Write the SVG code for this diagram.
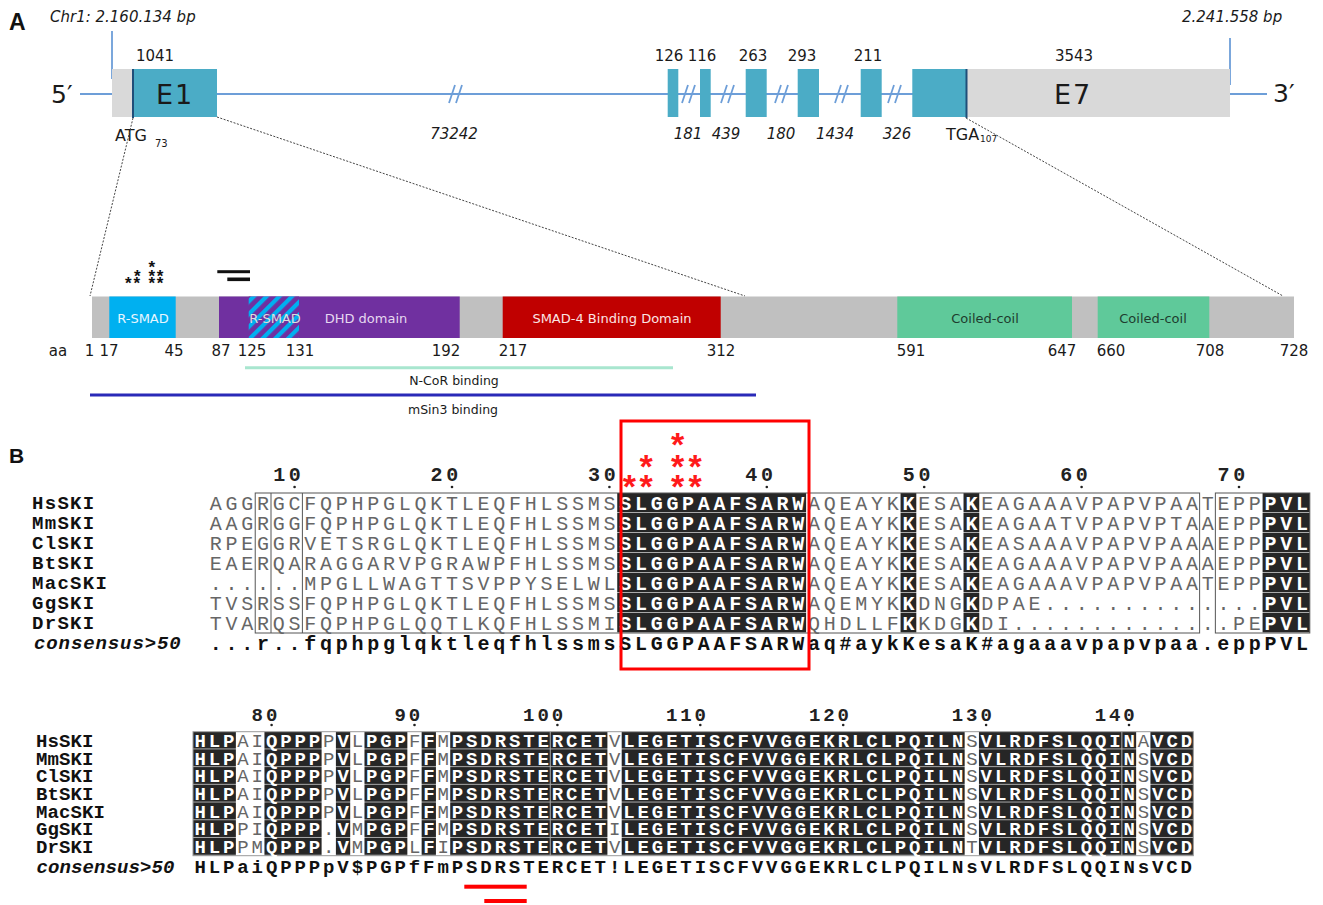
<svg xmlns="http://www.w3.org/2000/svg" width="1323" height="905" viewBox="0 0 1323 905">
<style>
.lbl{font-family:"Liberation Sans",Arial,sans-serif;font-weight:bold;fill:#111}
.dv{font-family:"DejaVu Sans",Verdana,sans-serif;fill:#1a1a1a}
.it{font-style:italic}
.bl{stroke:#6d9ed8;stroke-width:1.8;fill:none}
.exon{fill:#4bacc6}
.utr{fill:#d9d9d9}
.mk{stroke:#1f4e79;stroke-width:2}
.dot{stroke:#444;stroke-width:1;stroke-dasharray:2 1.5;fill:none}
.dl{font-family:"DejaVu Sans",Verdana,sans-serif;font-size:13px;text-anchor:middle}
.pn{font-family:"DejaVu Sans",Verdana,sans-serif;font-size:15px;fill:#1a1a1a;text-anchor:middle}
.s1{font-family:"Liberation Mono","Courier New",monospace;font-size:20px;letter-spacing:3.74px}
.s2{font-family:"Liberation Mono","Courier New",monospace;font-size:19px;letter-spacing:2.89px}
.nm1{font-family:"Liberation Mono","Courier New",monospace;font-size:19px;font-weight:bold;letter-spacing:1.3px;fill:#111}
.nm2{font-family:"Liberation Mono","Courier New",monospace;font-size:19px;font-weight:bold;letter-spacing:0.1px;fill:#111}
.g{fill:#666;font-weight:normal}
.w{fill:#fff;font-weight:bold}
.cs{font-weight:bold;fill:#111}
.num{font-weight:bold;fill:#222}
.frame{fill:none;stroke:#555;stroke-width:1}
.rstar{font-family:"Liberation Sans",Arial,sans-serif;font-weight:bold;font-size:34px;fill:#ff1a1a;text-anchor:middle}
.kstar{font-family:"Liberation Sans",Arial,sans-serif;font-weight:bold;font-size:17px;fill:#111;text-anchor:middle}
</style>
<defs>
<pattern id="hatch" patternUnits="userSpaceOnUse" width="9" height="9" patternTransform="rotate(45)">
<rect width="9" height="9" fill="#7030a0"/><rect width="4.2" height="9" fill="#00b0f0"/>
</pattern>
<pattern id="rows1" patternUnits="userSpaceOnUse" x="0" y="493" width="10" height="20">
<rect width="10" height="20" fill="#262626"/><rect y="19" width="10" height="1" fill="#aaa"/>
</pattern>
<pattern id="rows2" patternUnits="userSpaceOnUse" x="0" y="731.7" width="10" height="17.71">
<rect width="10" height="17.71" fill="#262626"/><rect y="16.71" width="10" height="1" fill="#aaa"/>
</pattern>
</defs>
<rect width="1323" height="905" fill="#fff"/>

<text class="lbl" x="9" y="30" font-size="23">A</text>
<g id="gene">
<text class="dv it" x="50" y="22" font-size="15" fill="#333">Chr1: 2.160.134 bp</text>
<text class="dv it" x="1182" y="22" font-size="15" fill="#333">2.241.558 bp</text>
<line class="bl" x1="112" y1="31" x2="112" y2="79"/>
<line class="bl" x1="1230" y1="38" x2="1230" y2="85"/>
<line class="bl" x1="80" y1="94" x2="1267" y2="94"/>
<text class="dv" x="51" y="103" font-size="25">5′</text>
<text class="dv" x="1273" y="102" font-size="25">3′</text>
<g id="breaks" class="bl">
<path d="M449,103 L455,85 M456,103 L462,85"/>
<path d="M682,103 L688,85 M689,103 L695,85"/>
<path d="M721,103 L727,85 M728,103 L734,85"/>
<path d="M775,103 L781,85 M782,103 L788,85"/>
<path d="M835,103 L841,85 M842,103 L848,85"/>
<path d="M888,103 L894,85 M895,103 L901,85"/>
</g>
</g>
<g id="exon1">
<rect class="utr" x="112" y="69" width="21" height="48"/>
<rect class="exon" x="133" y="69" width="84" height="48"/>
<line class="mk" x1="133" y1="69" x2="133" y2="118"/>
<text class="dv" x="175" y="104" font-size="27" text-anchor="middle" letter-spacing="2">E1</text>
<text class="dv" x="155" y="60.5" font-size="15" text-anchor="middle">1041</text>
<text class="dv" x="115" y="141" font-size="16">ATG</text>
<text class="dv" x="155" y="147" font-size="10">73</text>
</g>
<g id="exon2"><rect class="exon" x="667.7" y="69" width="10.6" height="48"/><text class="dv" x="669" y="60.5" font-size="15" text-anchor="middle">126</text></g>
<g id="exon3"><rect class="exon" x="700" y="69" width="10.7" height="48"/><text class="dv" x="702" y="60.5" font-size="15" text-anchor="middle">116</text></g>
<g id="exon4"><rect class="exon" x="745.7" y="69" width="21" height="48"/><text class="dv" x="753" y="60.5" font-size="15" text-anchor="middle">263</text></g>
<g id="exon5"><rect class="exon" x="797.7" y="69" width="21.3" height="48"/><text class="dv" x="802" y="60.5" font-size="15" text-anchor="middle">293</text></g>
<g id="exon6"><rect class="exon" x="860.7" y="69" width="21" height="48"/><text class="dv" x="868" y="60.5" font-size="15" text-anchor="middle">211</text></g>
<g id="exon7">
<rect class="exon" x="912.3" y="69" width="54.4" height="48"/>
<rect class="utr" x="966.7" y="69" width="263.3" height="48"/>
<line class="mk" x1="966.5" y1="69" x2="966.5" y2="118"/>
<text class="dv" x="1073" y="104" font-size="27" text-anchor="middle" letter-spacing="2">E7</text>
<text class="dv" x="1074" y="60.5" font-size="15" text-anchor="middle">3543</text>
<text class="dv" x="946" y="140" font-size="16">TGA</text>
<text class="dv" x="980" y="142" font-size="9">107</text>
</g>
<g id="introns" class="dv it" font-size="15" text-anchor="middle">
<text x="454" y="138.5">73242</text>
<text x="688" y="138.5">181</text>
<text x="726" y="138.5">439</text>
<text x="781" y="138.5">180</text>
<text x="835" y="138.5">1434</text>
<text x="897" y="138.5">326</text>
</g>

<g id="connectors">
<line class="dot" x1="133" y1="118" x2="90" y2="296"/>
<line class="dot" x1="217" y1="117" x2="745" y2="296"/>
<line class="dot" x1="966" y1="118" x2="1283" y2="296"/>
</g>

<g id="protein">
<rect x="92" y="296.5" width="1202" height="41.5" fill="#c0c0c0"/>
</g>
<g id="rsmad1">
<rect x="109.3" y="296.5" width="66.4" height="41.5" fill="#00b0f0"/>
<text class="dl" x="143" y="322.8" fill="#e8f6ff">R-SMAD</text>
</g>
<g id="dhd">
<rect x="219" y="296.5" width="240.7" height="41.5" fill="#7030a0"/>
<rect x="248.7" y="296.5" width="50.3" height="41.5" fill="url(#hatch)"/>
<text class="dl" x="275" y="322.8" fill="#dddddd">R-SMAD</text>
<text class="dl" x="366" y="322.8" fill="#e6d8f0">DHD domain</text>
</g>
<g id="smad4">
<rect x="502.7" y="296.5" width="218" height="41.5" fill="#c00000"/>
<text class="dl" x="612" y="322.8" fill="#fbe4e4">SMAD-4 Binding Domain</text>
</g>
<g id="cc1">
<rect x="897.3" y="296.5" width="174.7" height="41.5" fill="#5fc99a"/>
<text class="dl" x="985" y="322.8" fill="#1e3d2f" font-size="12.5">Coiled-coil</text>
</g>
<g id="cc2">
<rect x="1097.7" y="296.5" width="111.6" height="41.5" fill="#5fc99a"/>
<text class="dl" x="1153" y="322.8" fill="#1e3d2f" font-size="12.5">Coiled-coil</text>
</g>
<g id="aa-numbers">
<text class="pn" x="58" y="355.5">aa</text>
<text class="pn" x="89.5" y="355.5">1</text>
<text class="pn" x="109" y="355.5">17</text>
<text class="pn" x="174" y="355.5">45</text>
<text class="pn" x="221" y="355.5">87</text>
<text class="pn" x="252" y="355.5">125</text>
<text class="pn" x="300" y="355.5">131</text>
<text class="pn" x="446" y="355.5">192</text>
<text class="pn" x="513" y="355.5">217</text>
<text class="pn" x="721" y="355.5">312</text>
<text class="pn" x="911" y="355.5">591</text>
<text class="pn" x="1062" y="355.5">647</text>
<text class="pn" x="1111" y="355.5">660</text>
<text class="pn" x="1210" y="355.5">708</text>
<text class="pn" x="1294" y="355.5">728</text>
</g>
<g id="ncor">
<line x1="245" y1="367.7" x2="673" y2="367.7" stroke="#a8e6cf" stroke-width="3"/>
<text class="dv" x="454" y="385" font-size="12.5" text-anchor="middle">N-CoR binding</text>
</g>
<g id="msin3">
<line x1="90" y1="395" x2="756" y2="395" stroke="#2a2ab8" stroke-width="3"/>
<text class="dv" x="453" y="413.5" font-size="12.5" text-anchor="middle">mSin3 binding</text>
</g>
<g id="black-marks">
<text class="kstar" x="151.7" y="272.5">*</text>
<text class="kstar" x="137.3 151.7 160" y="281.5">***</text>
<text class="kstar" x="128.3 136.7 151.7 160" y="289">****</text>
<rect x="217.3" y="270.2" width="32.7" height="3" fill="#111"/>
<rect x="227.3" y="277.5" width="22.7" height="3.6" fill="#111"/>
</g>

<text class="lbl" x="9" y="463" font-size="21">B</text>

<g id="block1">
<rect x="617.24" y="493" width="188.88" height="140" fill="url(#rows1)"/>
<rect x="900.56" y="493" width="15.74" height="140" fill="url(#rows1)"/>
<rect x="963.52" y="493" width="15.74" height="140" fill="url(#rows1)"/>
<rect x="1262.58" y="493" width="47.22" height="140" fill="url(#rows1)"/>
<rect class="frame" x="255.22" y="493" width="944.4" height="140"/>
<rect class="frame" x="1215.36" y="493" width="94.44" height="140"/>
<line class="frame" x1="271" y1="493" x2="271" y2="633"/>
<line class="frame" x1="302.4" y1="493" x2="302.4" y2="633"/>

<g class="s1 num" font-size="19" letter-spacing="4.34">
<text x="273.13" y="481">10</text>
<text x="430.53" y="481">20</text>
<text x="587.93" y="481">30</text>
<text x="745.33" y="481">40</text>
<text x="902.73" y="481">50</text>
<text x="1060.13" y="481">60</text>
<text x="1217.53" y="481">70</text>
</g>
<g fill="#222">
<circle cx="294.57" cy="487" r="1.3"/><circle cx="452" cy="487" r="1.3"/><circle cx="609.4" cy="487" r="1.3"/><circle cx="766.8" cy="487" r="1.3"/><circle cx="924.2" cy="487" r="1.3"/><circle cx="1081.6" cy="487" r="1.3"/><circle cx="1239" cy="487" r="1.3"/>
</g>

<g class="nm1">
<text x="32" y="509.3">HsSKI</text>
<text x="32" y="529.3">MmSKI</text>
<text x="32" y="549.3">ClSKI</text>
<text x="32" y="569.3">BtSKI</text>
<text x="32" y="589.3">MacSKI</text>
<text x="32" y="609.3">GgSKI</text>
<text x="32" y="629.3">DrSKI</text>
<text x="34" y="649.3" font-style="italic" letter-spacing="0.9px">consensus&gt;50</text>
</g>

<g class="s1">
<text x="209.87" y="509.8"><tspan class="g">AGGRGCFQPHPGLQKTLEQFHLSSMS</tspan><tspan class="w">SLGGPAAFSARW</tspan><tspan class="g">AQEAYK</tspan><tspan class="w">K</tspan><tspan class="g">ESA</tspan><tspan class="w">K</tspan><tspan class="g">EAGAAAVPAPVPAATEPP</tspan><tspan class="w">PVL</tspan></text>
<text x="209.87" y="529.8"><tspan class="g">AAGRGGFQPHPGLQKTLEQFHLSSMS</tspan><tspan class="w">SLGGPAAFSARW</tspan><tspan class="g">AQEAYK</tspan><tspan class="w">K</tspan><tspan class="g">ESA</tspan><tspan class="w">K</tspan><tspan class="g">EAGAATVPAPVPTAAEPP</tspan><tspan class="w">PVL</tspan></text>
<text x="209.87" y="549.8"><tspan class="g">RPEGGRVETSRGLQKTLEQFHLSSMS</tspan><tspan class="w">SLGGPAAFSARW</tspan><tspan class="g">AQEAYK</tspan><tspan class="w">K</tspan><tspan class="g">ESA</tspan><tspan class="w">K</tspan><tspan class="g">EASAAAVPAPVPAAAEPP</tspan><tspan class="w">PVL</tspan></text>
<text x="209.87" y="569.8"><tspan class="g">EAERQARAGGARVPGRAWPFHLSSMS</tspan><tspan class="w">SLGGPAAFSARW</tspan><tspan class="g">AQEAYK</tspan><tspan class="w">K</tspan><tspan class="g">ESA</tspan><tspan class="w">K</tspan><tspan class="g">EAGAAAVPAPVPAAAEPP</tspan><tspan class="w">PVL</tspan></text>
<text x="209.87" y="589.8"><tspan class="g">......MPGLLWAGTTSVPPYSELWL</tspan><tspan class="w">SLGGPAAFSARW</tspan><tspan class="g">AQEAYK</tspan><tspan class="w">K</tspan><tspan class="g">ESA</tspan><tspan class="w">K</tspan><tspan class="g">EAGAAAVPAPVPAATEPP</tspan><tspan class="w">PVL</tspan></text>
<text x="209.87" y="609.8"><tspan class="g">TVSRSSFQPHPGLQKTLEQFHLSSMS</tspan><tspan class="w">SLGGPAAFSARW</tspan><tspan class="g">AQEMYK</tspan><tspan class="w">K</tspan><tspan class="g">DNG</tspan><tspan class="w">K</tspan><tspan class="g">DPAE..............</tspan><tspan class="w">PVL</tspan></text>
<text x="209.87" y="629.8"><tspan class="g">TVARQSFQPHPGLQQTLKQFHLSSMI</tspan><tspan class="w">SLGGPAAFSARW</tspan><tspan class="g">QHDLLF</tspan><tspan class="w">K</tspan><tspan class="g">KDG</tspan><tspan class="w">K</tspan><tspan class="g">DI..............PE</tspan><tspan class="w">PVL</tspan></text>
<text class="cs" x="209.87" y="649.8">...r..fqphpglqktleqfhlssmsSLGGPAAFSARWaq#aykKesaK#agaaavpapvpaa.eppPVL</text>
</g>

<g id="red-box">
<rect x="621" y="421" width="188" height="248" fill="none" stroke="#ff0000" stroke-width="3"/>
<text class="rstar" x="677.7" y="456.4">*</text>
<text class="rstar" x="646 677.7 695" y="478">***</text>
<text class="rstar" x="629.3 646 677.7 695" y="498">****</text>
</g>
</g>

<g id="block2">
<rect x="193" y="731.7" width="42.87" height="124" fill="url(#rows2)"/>
<rect x="264.45" y="731.7" width="57.16" height="124" fill="url(#rows2)"/>
<rect x="335.9" y="731.7" width="14.29" height="124" fill="url(#rows2)"/>
<rect x="364.48" y="731.7" width="42.87" height="124" fill="url(#rows2)"/>
<rect x="421.64" y="731.7" width="14.29" height="124" fill="url(#rows2)"/>
<rect x="450.22" y="731.7" width="157.19" height="124" fill="url(#rows2)"/>
<rect x="621.7" y="731.7" width="342.96" height="124" fill="url(#rows2)"/>
<rect x="978.95" y="731.7" width="157.19" height="124" fill="url(#rows2)"/>
<rect x="1150.43" y="731.7" width="42.87" height="124" fill="url(#rows2)"/>
<rect x="193" y="731.7" width="1000.3" height="124" fill="none" stroke="#999" stroke-width="1"/>
<line x1="550.25" y1="731.7" x2="550.25" y2="855.7" stroke="#aaa" stroke-width="1"/>
<line x1="1121.85" y1="731.7" x2="1121.85" y2="855.7" stroke="#aaa" stroke-width="1"/>

<g class="s2 num" font-size="18">
<text x="251.61" y="721">80</text>
<text x="394.51" y="721">90</text>
<text x="523.12" y="721">100</text>
<text x="666.02" y="721">110</text>
<text x="808.92" y="721">120</text>
<text x="951.82" y="721">130</text>
<text x="1094.72" y="721">140</text>
</g>
<g fill="#222">
<circle cx="271.6" cy="725" r="1.3"/><circle cx="414.5" cy="725" r="1.3"/><circle cx="557.4" cy="725" r="1.3"/><circle cx="700.3" cy="725" r="1.3"/><circle cx="843.2" cy="725" r="1.3"/><circle cx="986.1" cy="725" r="1.3"/><circle cx="1129" cy="725" r="1.3"/>
</g>

<g class="nm2">
<text x="36" y="746.8">HsSKI</text>
<text x="36" y="764.5">MmSKI</text>
<text x="36" y="782.2">ClSKI</text>
<text x="36" y="799.9">BtSKI</text>
<text x="36" y="817.6">MacSKI</text>
<text x="36" y="835.4">GgSKI</text>
<text x="36" y="853.1">DrSKI</text>
<text x="36.5" y="872.7" font-style="italic">consensus&gt;50</text>
</g>

<g class="s2">
<text x="194.45" y="746.8"><tspan class="w">HLP</tspan><tspan class="g">AI</tspan><tspan class="w">QPPP</tspan><tspan class="g">P</tspan><tspan class="w">V</tspan><tspan class="g">L</tspan><tspan class="w">PGP</tspan><tspan class="g">F</tspan><tspan class="w">F</tspan><tspan class="g">M</tspan><tspan class="w">PSDRSTERCET</tspan><tspan class="g">V</tspan><tspan class="w">LEGETISCFVVGGEKRLCLPQILN</tspan><tspan class="g">S</tspan><tspan class="w">VLRDFSLQQIN</tspan><tspan class="g">A</tspan><tspan class="w">VCD</tspan></text>
<text x="194.45" y="764.5"><tspan class="w">HLP</tspan><tspan class="g">AI</tspan><tspan class="w">QPPP</tspan><tspan class="g">P</tspan><tspan class="w">V</tspan><tspan class="g">L</tspan><tspan class="w">PGP</tspan><tspan class="g">F</tspan><tspan class="w">F</tspan><tspan class="g">M</tspan><tspan class="w">PSDRSTERCET</tspan><tspan class="g">V</tspan><tspan class="w">LEGETISCFVVGGEKRLCLPQILN</tspan><tspan class="g">S</tspan><tspan class="w">VLRDFSLQQIN</tspan><tspan class="g">S</tspan><tspan class="w">VCD</tspan></text>
<text x="194.45" y="782.2"><tspan class="w">HLP</tspan><tspan class="g">AI</tspan><tspan class="w">QPPP</tspan><tspan class="g">P</tspan><tspan class="w">V</tspan><tspan class="g">L</tspan><tspan class="w">PGP</tspan><tspan class="g">F</tspan><tspan class="w">F</tspan><tspan class="g">M</tspan><tspan class="w">PSDRSTERCET</tspan><tspan class="g">V</tspan><tspan class="w">LEGETISCFVVGGEKRLCLPQILN</tspan><tspan class="g">S</tspan><tspan class="w">VLRDFSLQQIN</tspan><tspan class="g">S</tspan><tspan class="w">VCD</tspan></text>
<text x="194.45" y="799.9"><tspan class="w">HLP</tspan><tspan class="g">AI</tspan><tspan class="w">QPPP</tspan><tspan class="g">P</tspan><tspan class="w">V</tspan><tspan class="g">L</tspan><tspan class="w">PGP</tspan><tspan class="g">F</tspan><tspan class="w">F</tspan><tspan class="g">M</tspan><tspan class="w">PSDRSTERCET</tspan><tspan class="g">V</tspan><tspan class="w">LEGETISCFVVGGEKRLCLPQILN</tspan><tspan class="g">S</tspan><tspan class="w">VLRDFSLQQIN</tspan><tspan class="g">S</tspan><tspan class="w">VCD</tspan></text>
<text x="194.45" y="817.6"><tspan class="w">HLP</tspan><tspan class="g">AI</tspan><tspan class="w">QPPP</tspan><tspan class="g">P</tspan><tspan class="w">V</tspan><tspan class="g">L</tspan><tspan class="w">PGP</tspan><tspan class="g">F</tspan><tspan class="w">F</tspan><tspan class="g">M</tspan><tspan class="w">PSDRSTERCET</tspan><tspan class="g">V</tspan><tspan class="w">LEGETISCFVVGGEKRLCLPQILN</tspan><tspan class="g">S</tspan><tspan class="w">VLRDFSLQQIN</tspan><tspan class="g">S</tspan><tspan class="w">VCD</tspan></text>
<text x="194.45" y="835.4"><tspan class="w">HLP</tspan><tspan class="g">PI</tspan><tspan class="w">QPPP</tspan><tspan class="g">.</tspan><tspan class="w">V</tspan><tspan class="g">M</tspan><tspan class="w">PGP</tspan><tspan class="g">F</tspan><tspan class="w">F</tspan><tspan class="g">M</tspan><tspan class="w">PSDRSTERCET</tspan><tspan class="g">I</tspan><tspan class="w">LEGETISCFVVGGEKRLCLPQILN</tspan><tspan class="g">S</tspan><tspan class="w">VLRDFSLQQIN</tspan><tspan class="g">S</tspan><tspan class="w">VCD</tspan></text>
<text x="194.45" y="853.1"><tspan class="w">HLP</tspan><tspan class="g">PM</tspan><tspan class="w">QPPP</tspan><tspan class="g">.</tspan><tspan class="w">V</tspan><tspan class="g">M</tspan><tspan class="w">PGP</tspan><tspan class="g">L</tspan><tspan class="w">F</tspan><tspan class="g">I</tspan><tspan class="w">PSDRSTERCET</tspan><tspan class="g">V</tspan><tspan class="w">LEGETISCFVVGGEKRLCLPQILN</tspan><tspan class="g">T</tspan><tspan class="w">VLRDFSLQQIN</tspan><tspan class="g">S</tspan><tspan class="w">VCD</tspan></text>
<text class="cs" x="194.45" y="872.7">HLPaiQPPPpV$PGPfFmPSDRSTERCET!LEGETISCFVVGGEKRLCLPQILNsVLRDFSLQQINsVCD</text>
</g>

<g id="red-underline" fill="#ff0000">
<rect x="464.3" y="884.7" width="62.4" height="4"/>
<rect x="484.3" y="899" width="42.4" height="4"/>
</g>
</g>
</svg>
